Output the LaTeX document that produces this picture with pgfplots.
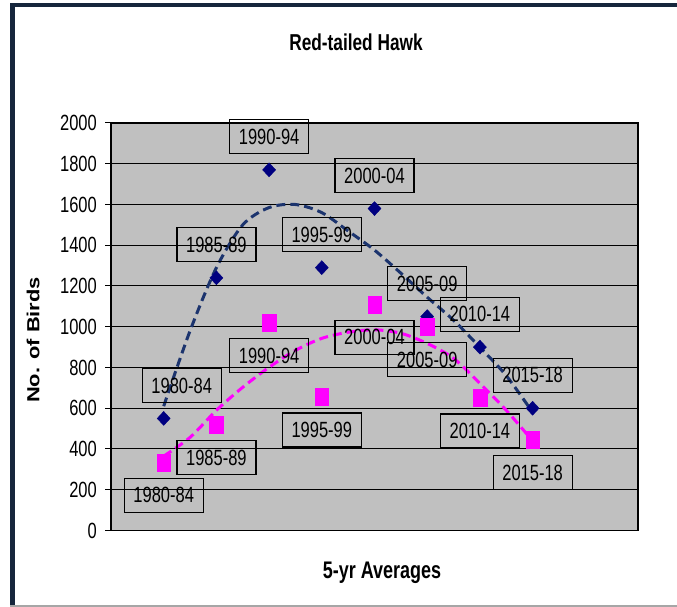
\documentclass[border=0pt]{standalone}
\usepackage{pgfplots}
\pgfplotsset{compat=1.18}
\usepackage{fontspec}
\setmainfont[FakeStretch=0.75]{Liberation Sans}
\newfontfamily\widefont{Liberation Sans}

\definecolor{hawkblue}{RGB}{0,0,128}
\definecolor{trendblue}{RGB}{28,52,110}
\definecolor{hawkpink}{RGB}{255,0,255}
\definecolor{plotgray}{RGB}{192,192,192}
\definecolor{framenavy}{RGB}{22,38,60}

\begin{document}
\begin{tikzpicture}
\useasboundingbox (0,0) rectangle (677pt,607pt);
\fill[white] (0,0) rectangle (677pt,607pt);
% outer frame
\fill[framenavy] (10pt,600pt) rectangle (677pt,604pt);
\fill[framenavy] (10pt,0pt) rectangle (15pt,604pt);
\fill[gray!70] (10pt,0pt) rectangle (677pt,2pt);

\begin{axis}[
    at={(111pt,76.5pt)}, anchor=south west,
    scale only axis,
    width=527pt, height=407.5pt,
    xmin=0, xmax=10,
    ymin=0, ymax=2000,
    xtick=\empty,
    ytick={0,200,...,2000},
    ytick pos=left,
    tick align=outside,
    major tick length=6pt,
    ymajorgrids=true,
    grid style={black, line width=1pt},
    axis background/.style={fill=plotgray},
    axis line style={black, line width=1.3pt},
    tick style={black, line width=1pt},
    yticklabel style={font=\fontsize{22}{24}\selectfont, anchor=east, inner sep=0pt, xshift=-8pt},
    /pgf/number format/assume math mode=true,
    /pgf/number format/1000 sep={},
    clip=false,
    lbl/.style={point meta=explicit symbolic,
      visualization depends on={value \thisrow{dx}\as\dx},
      nodes near coords,
      every node near coord/.style={draw=black, line width=1.2pt, fill=none, text=black,
        minimum width=79pt, minimum height=34pt, inner sep=0pt, anchor=center,
        font=\fontsize{22}{24}\selectfont, xshift=\dx pt, yshift=#1}},
  ]

  % blue trend
  \addplot[trendblue, line width=3pt, dash pattern=on 9pt off 5pt, smooth, no marks] coordinates {
    (1,610) (1.5,980) (2,1290) (2.5,1500) (3,1585) (3.5,1600) (4,1560) (4.5,1470)
    (5,1376) (5.5,1263) (6,1145) (6.5,1032) (7,899) (7.5,760) (8,580)
  };
  % pink trend
  \addplot[hawkpink, line width=3pt, dash pattern=on 9pt off 5pt, smooth, no marks] coordinates {
    (1,365) (1.5,457) (2,590) (2.5,703) (3,801) (3.5,884) (4,943) (4.5,973)
    (5,985) (5.5,968) (6,918) (6.5,845) (7,722) (7.5,590) (8,440)
  };

  \addplot[only marks, mark=diamond*, mark size=7pt,
    mark options={fill=hawkblue, draw=hawkblue, xscale=1.24}, lbl=33pt]
    table[x=x, y=y, meta=lab] {
    x y    lab     dx
    1 550  1980-84 18
    2 1240 1985-89 0
    3 1770 1990-94 0
    4 1290 1995-99 0
    5 1580 2000-04 0
    6 1050 2005-09 0
    7 900  2010-14 0
    8 600  2015-18 0
  };

  \addplot[only marks, mark=square*, mark size=6.8pt,
    mark options={fill=hawkpink, draw=hawkpink, yscale=1.25}, lbl=-33pt]
    table[x=x, y=y, meta=lab] {
    x y    lab     dx
    1 335  1980-84 0
    2 520  1985-89 0
    3 1020 1990-94 0
    4 655  1995-99 0
    5 1110 2000-04 0
    6 1000 2005-09 0
    7 650  2010-14 0
    8 445  2015-18 0
  };
\end{axis}

\node[font=\fontsize{23}{26}\selectfont\bfseries] at (356pt,565pt) {Red-tailed Hawk};
\node[font=\fontsize{24}{26}\selectfont\bfseries] at (382pt,34pt) {5-yr Averages};
\node at (33pt,267pt) {\rotatebox{90}{\scalebox{1.25}[1]{\widefont\bfseries\fontsize{17.5}{20}\selectfont No. of Birds}}};
\end{tikzpicture}
\end{document}
